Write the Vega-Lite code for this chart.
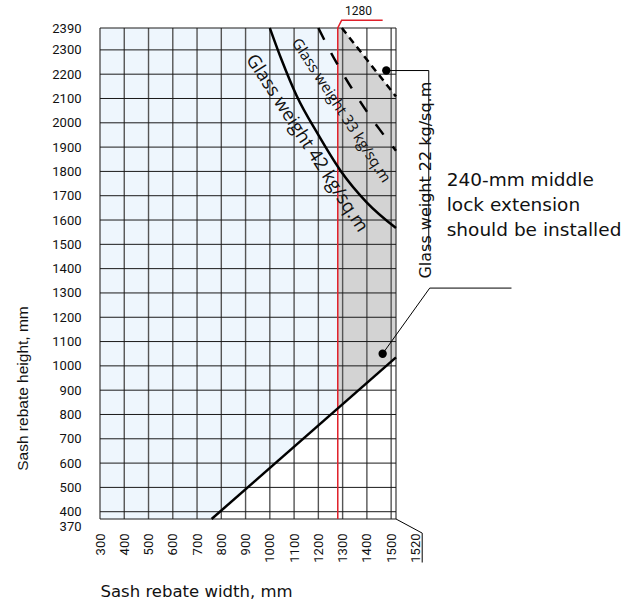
{
  "$schema": "https://vega.github.io/schema/vega-lite/v6.json",
  "autosize": "none",
  "width": 296,
  "height": 491,
  "padding": {"left": 100, "top": 28, "right": 243, "bottom": 87},
  "background": "white",
  "config": {"view": {"stroke": null}, "font": "Roboto"},
  "datasets": {
    "regions": [
      {"region": "blue", "w": 300, "lo": 370, "hi": 2390},
      {"region": "blue", "w": 760, "lo": 370, "hi": 2390},
      {"region": "blue", "w": 1280, "lo": 828, "hi": 2390},
      {"region": "gray", "w": 1280, "lo": 828, "hi": 2390},
      {"region": "gray", "w": 1297, "lo": 843, "hi": 2390},
      {"region": "gray", "w": 1520, "lo": 1035, "hi": 2108}
    ],
    "gridx": [
      {"w": 300}, {"w": 400}, {"w": 500}, {"w": 600}, {"w": 700}, {"w": 800}, {"w": 900},
      {"w": 1000}, {"w": 1100}, {"w": 1200}, {"w": 1300}, {"w": 1400}, {"w": 1500}, {"w": 1520}
    ],
    "gridy": [
      {"h": 370}, {"h": 400}, {"h": 500}, {"h": 600}, {"h": 700}, {"h": 800}, {"h": 900},
      {"h": 1000}, {"h": 1100}, {"h": 1200}, {"h": 1300}, {"h": 1400}, {"h": 1500}, {"h": 1600},
      {"h": 1700}, {"h": 1800}, {"h": 1900}, {"h": 2000}, {"h": 2100}, {"h": 2200}, {"h": 2300}, {"h": 2390}
    ],
    "lines": [
      {"id": "diag", "o": 1, "w": 760, "h": 370},
      {"id": "diag", "o": 2, "w": 1520, "h": 1035},
      {"id": "g42", "o": 1, "w": 1000, "h": 2390},
      {"id": "g42", "o": 2, "w": 1050, "h": 2255},
      {"id": "g42", "o": 3, "w": 1110, "h": 2112},
      {"id": "g42", "o": 4, "w": 1200, "h": 1950},
      {"id": "g42", "o": 5, "w": 1290, "h": 1805},
      {"id": "g42", "o": 6, "w": 1400, "h": 1672},
      {"id": "g42", "o": 7, "w": 1520, "h": 1567},
      {"id": "g33", "o": 1, "w": 1200, "h": 2390},
      {"id": "g33", "o": 2, "w": 1250, "h": 2292},
      {"id": "g33", "o": 3, "w": 1300, "h": 2204},
      {"id": "g33", "o": 4, "w": 1350, "h": 2122},
      {"id": "g33", "o": 5, "w": 1400, "h": 2046},
      {"id": "g33", "o": 6, "w": 1450, "h": 1976},
      {"id": "g33", "o": 7, "w": 1520, "h": 1885},
      {"id": "g22", "o": 1, "w": 1297, "h": 2390},
      {"id": "g22", "o": 2, "w": 1520, "h": 2108}
    ],
    "red": [
      {"o": 1, "w": 1280, "h": 370},
      {"o": 2, "w": 1280, "h": 2390},
      {"o": 3, "w": 1296, "h": 2422},
      {"o": 4, "w": 1465, "h": 2422}
    ],
    "leaders": [
      {"id": "a", "o": 1, "w": 1480, "h": 2215},
      {"id": "a", "o": 2, "w": 1655, "h": 2215},
      {"id": "a", "o": 3, "w": 1655, "h": 1478},
      {"id": "b", "o": 1, "w": 1465, "h": 1050},
      {"id": "b", "o": 2, "w": 1659, "h": 1320},
      {"id": "b", "o": 3, "w": 1996, "h": 1320},
      {"id": "c", "o": 1, "w": 1520, "h": 370},
      {"id": "c", "o": 2, "w": 1628, "h": 312},
      {"id": "c", "o": 3, "w": 1628, "h": 191}
    ],
    "dots": [
      {"w": 1480, "h": 2215},
      {"w": 1465, "h": 1050}
    ],
    "labels": [
      {"t": "Glass weight 42 kg/sq.m", "w": 1154, "h": 1917, "kind": "c42"},
      {"t": "Glass weight 33 kg/sq.m", "w": 1295, "h": 2051, "kind": "c33"},
      {"t": "Glass weight 22 kg/sq.m", "w": 1642, "h": 1764, "kind": "c22"},
      {"t": "240-mm middle", "w": 1729, "h": 1766, "kind": "note"},
      {"t": "lock extension", "w": 1729, "h": 1663, "kind": "note"},
      {"t": "should be installed", "w": 1729, "h": 1560, "kind": "note"},
      {"t": "1280", "w": 1365, "h": 2458, "kind": "red"}
    ]
  },
  "encoding": {
    "x": {
      "field": "w", "type": "quantitative",
      "scale": {"domain": [300, 1520], "nice": false, "zero": false},
      "axis": {
        "values": [300, 400, 500, 600, 700, 800, 900, 1000, 1100, 1200, 1300, 1400, 1500, 1520],
        "format": "d",
        "grid": false, "domain": false, "ticks": false,
        "labelAngle": 270, "labelAlign": "right", "labelBaseline": "middle",
        "labelPadding": 14, "labelFontSize": 13, "labelColor": "#111", "labelFont": "Roboto",
        "labelOffset": {"condition": {"test": "datum.value == 1520", "value": 19}, "value": 0},
        "labelOverlap": false,
        "title": "Sash rebate width, mm", "titleFont": "DejaVu Sans", "titleFontSize": 16.5,
        "titleFontWeight": "normal", "titleColor": "#111",
        "titleX": 0, "titleY": 72, "titleAlign": "left", "titleBaseline": "middle", "titleAnchor": "start"
      }
    },
    "y": {
      "field": "h", "type": "quantitative",
      "scale": {"domain": [370, 2390], "nice": false, "zero": false},
      "axis": {
        "values": [370, 400, 500, 600, 700, 800, 900, 1000, 1100, 1200, 1300, 1400, 1500, 1600, 1700, 1800, 1900, 2000, 2100, 2200, 2300, 2390],
        "format": "d",
        "grid": false, "domain": false, "ticks": false,
        "labelPadding": 19, "labelFontSize": 13, "labelColor": "#111", "labelFont": "Roboto",
        "labelOffset": {"condition": {"test": "datum.value == 370", "value": 7}, "value": 0},
        "labelOverlap": false,
        "title": "Sash rebate height, mm", "titleFont": "Liberation Sans", "titleFontSize": 15.5,
        "titleFontWeight": "normal", "titleColor": "#111",
        "titleAngle": 270, "titleX": -78, "titleY": 360, "titleAlign": "center", "titleBaseline": "middle"
      }
    }
  },
  "layer": [
    {
      "data": {"name": "regions"},
      "transform": [{"filter": "datum.region == 'blue'"}],
      "mark": {"type": "area", "color": "#eef6fd", "opacity": 1},
      "encoding": {"y": {"field": "lo", "type": "quantitative"}, "y2": {"field": "hi"}}
    },
    {
      "data": {"name": "regions"},
      "transform": [{"filter": "datum.region == 'gray'"}],
      "mark": {"type": "area", "color": "#d3d3d3", "opacity": 1},
      "encoding": {"y": {"field": "lo", "type": "quantitative"}, "y2": {"field": "hi"}}
    },
    {
      "data": {"name": "gridx"},
      "mark": {"type": "rule", "color": "#555555", "strokeWidth": 1.4},
      "encoding": {"y": null}
    },
    {
      "data": {"name": "gridy"},
      "mark": {"type": "rule", "color": "#1a1a1a", "strokeWidth": 1},
      "encoding": {"x": null}
    },
    {
      "data": {"name": "red"},
      "mark": {"type": "line", "color": "#e0202a", "strokeWidth": 1.5},
      "encoding": {"order": {"field": "o"}}
    },
    {
      "data": {"name": "lines"},
      "transform": [{"filter": "datum.id == 'diag' || datum.id == 'g42'"}],
      "mark": {"type": "line", "color": "black", "strokeWidth": 2.5, "interpolate": "monotone"},
      "encoding": {"detail": {"field": "id"}, "order": {"field": "o"}}
    },
    {
      "data": {"name": "lines"},
      "transform": [{"filter": "datum.id == 'g33'"}],
      "mark": {"type": "line", "color": "black", "strokeWidth": 2.5, "strokeDash": [13, 15], "interpolate": "monotone"},
      "encoding": {"order": {"field": "o"}}
    },
    {
      "data": {"name": "lines"},
      "transform": [{"filter": "datum.id == 'g22'"}],
      "mark": {"type": "line", "color": "black", "strokeWidth": 2.5, "strokeDash": [7, 5]},
      "encoding": {"order": {"field": "o"}}
    },
    {
      "data": {"name": "leaders"},
      "mark": {"type": "line", "color": "black", "strokeWidth": 1},
      "encoding": {"detail": {"field": "id"}, "order": {"field": "o"}}
    },
    {
      "data": {"name": "dots"},
      "mark": {"type": "circle", "color": "black", "opacity": 1, "size": 70}
    },
    {
      "data": {"name": "labels"},
      "transform": [{"filter": "datum.kind == 'c42'"}],
      "mark": {"type": "text", "font": "Open Sans", "fontSize": 18.5, "angle": 57, "align": "center", "baseline": "middle", "color": "#111"},
      "encoding": {"text": {"field": "t"}}
    },
    {
      "data": {"name": "labels"},
      "transform": [{"filter": "datum.kind == 'c33'"}],
      "mark": {"type": "text", "font": "Open Sans", "fontSize": 15, "angle": 57, "align": "center", "baseline": "middle", "color": "#111"},
      "encoding": {"text": {"field": "t"}}
    },
    {
      "data": {"name": "labels"},
      "transform": [{"filter": "datum.kind == 'c22'"}],
      "mark": {"type": "text", "font": "DejaVu Sans", "fontSize": 16, "angle": 270, "align": "center", "baseline": "middle", "color": "#111"},
      "encoding": {"text": {"field": "t"}}
    },
    {
      "data": {"name": "labels"},
      "transform": [{"filter": "datum.kind == 'note'"}],
      "mark": {"type": "text", "font": "DejaVu Sans", "fontSize": 18.5, "align": "left", "baseline": "middle", "color": "#111"},
      "encoding": {"text": {"field": "t"}}
    },
    {
      "data": {"name": "labels"},
      "transform": [{"filter": "datum.kind == 'red'"}],
      "mark": {"type": "text", "font": "Roboto", "fontSize": 12, "align": "center", "baseline": "middle", "color": "#111"},
      "encoding": {"text": {"field": "t"}}
    }
  ]
}
